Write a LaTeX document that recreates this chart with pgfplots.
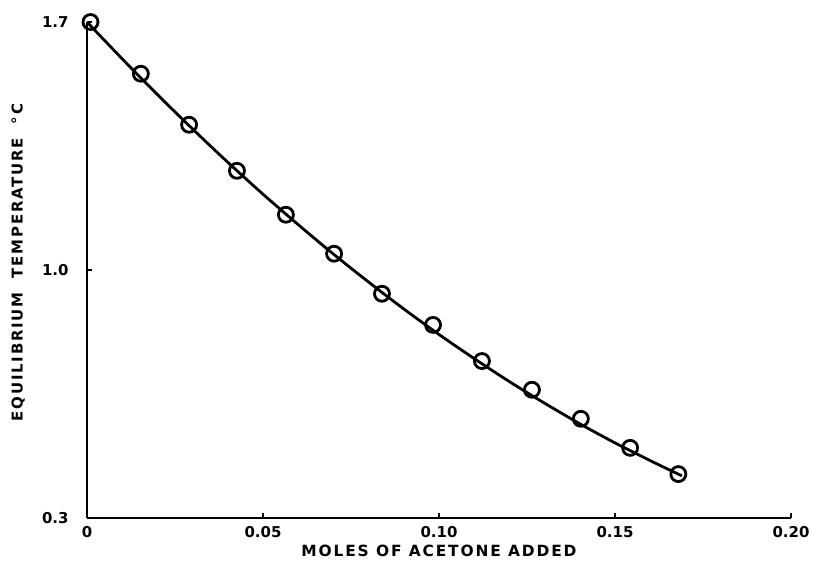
\documentclass[border=0pt]{standalone}
\usepackage{fontspec}
\setmainfont{DejaVu Sans}
\newfontfamily\lbl[LetterSpace=12]{DejaVu Sans}
\usepackage{pgfplots}
\pgfplotsset{compat=1.18}
\begin{document}
\begin{tikzpicture}
\begin{axis}[
  scale only axis, width=704bp, height=496bp,
  xmin=0, xmax=0.2, ymin=0.3, ymax=1.7,
  axis x line*=bottom, axis y line*=left,
  axis line style={line width=2.6bp},
  clip=false,
  xtick={0,0.05,0.1,0.15,0.2},
  xticklabels={0,0.05,0.10,0.15,0.20},
  ytick={0.3,1.0,1.7},
  yticklabels={0.3,1.0,1.7},
  tick align=inside,
  major tick length=5bp,
  tick style={line width=2bp, black},
  tick label style={font=\bfseries\fontsize{15}{15}\selectfont},
  xticklabel style={yshift=-5bp},
  yticklabel style={xshift=-15bp},
  xlabel={\lbl\bfseries\fontsize{15.5}{15.5}\selectfont MOLES OF ACETONE ADDED},
  ylabel={\lbl\bfseries\fontsize{15}{15}\selectfont EQUILIBRIUM\ \ TEMPERATURE\ \ °C},
  xlabel style={at={(axis description cs:0.5,0)}, anchor=center, yshift=-33bp},
  ylabel style={at={(axis description cs:0,0.515)}, anchor=center, yshift=69bp},
]
\addplot[black, line width=2.8bp, smooth] coordinates {
 (0,1.700) (0.01,1.596) (0.02,1.495) (0.03,1.398) (0.04,1.304)
 (0.05,1.214) (0.06,1.128) (0.07,1.045) (0.08,0.966) (0.09,0.890)
 (0.10,0.818) (0.11,0.750) (0.12,0.685) (0.13,0.624) (0.14,0.566)
 (0.15,0.512) (0.16,0.462) (0.169,0.419)
};
\addplot[black, only marks, mark=o, mark size=7.5bp, mark options={line width=2.8bp}] coordinates {
 (0.001,1.700) (0.0153,1.554) (0.029,1.410) (0.0426,1.280) (0.0565,1.156)
 (0.0702,1.046) (0.0838,0.933) (0.0983,0.845) (0.1122,0.743) (0.1264,0.662)
 (0.1403,0.580) (0.1543,0.498) (0.168,0.424)
};
\end{axis}
\pgfresetboundingbox
\path (-87bp,-49bp) rectangle (738bp,518bp);
\end{tikzpicture}
\end{document}
